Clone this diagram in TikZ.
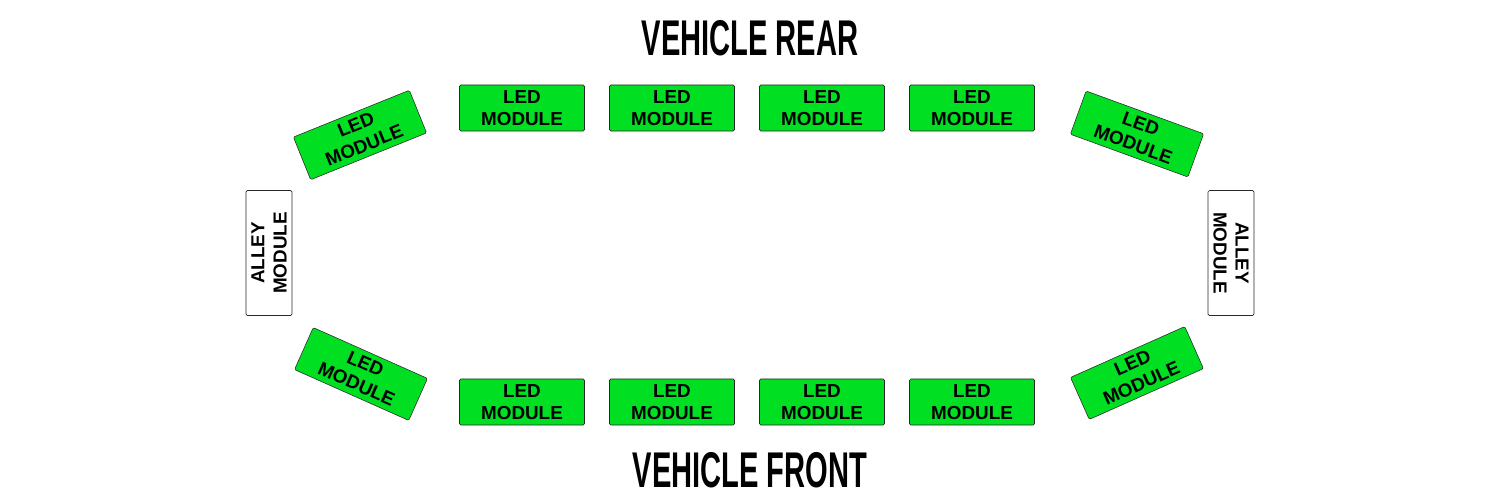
\documentclass[tikz,border=0pt]{standalone}
\usepackage{fontspec}
\setmainfont{Liberation Sans}
\newfontfamily\titlefont[FakeStretch=0.58]{Liberation Sans}
\usetikzlibrary{positioning}
\definecolor{LedGreen}{HTML}{00DF22}
\definecolor{Edge}{HTML}{2A2A2A}

\begin{document}
\begin{tikzpicture}[x=0.025cm,y=-0.025cm,
    ledmod/.style={draw=Edge,fill=LedGreen,rounded corners=1pt,
                   minimum width=3.125cm,minimum height=1.15cm,
                   inner sep=0pt,align=center,
                   font=\fontsize{13.4}{15.8}\selectfont\bfseries},
    alleymod/.style={ledmod,fill=white},
    ttl/.style={font=\titlefont\fontsize{35.7}{40}\selectfont\bfseries,
                inner sep=0pt}]
  \useasboundingbox (0,0) rectangle (1500,500);
  % titles
  \node[ttl] (rear) at (750,38) {VEHICLE REAR};
  \node[ttl] (front) at (750,470) {VEHICLE FRONT};
  % straight rows, rear and front
  \foreach \i/\x in {1/522,2/672,3/822,4/972} {
    \node[ledmod] (t\i) at (\x,108) {LED\\MODULE};
    \node[ledmod] (b\i) at (\x,402) {LED\\MODULE};
  }
  % corner modules
  \node[ledmod,rotate=22] (tl) at (360,135) {LED\\MODULE};
  \node[ledmod,rotate=-20] (tr) at (1137,134) {LED\\MODULE};
  \node[ledmod,rotate=-24] (bl) at (361,374) {LED\\MODULE};
  \node[ledmod,rotate=24] (br) at (1137,373) {LED\\MODULE};
  % alley lights
  \node[alleymod,rotate=90] (al) at (269,253) {ALLEY\\MODULE};
  \node[alleymod,rotate=-90] (ar) at (1231,253) {ALLEY\\MODULE};
\end{tikzpicture}
\end{document}
